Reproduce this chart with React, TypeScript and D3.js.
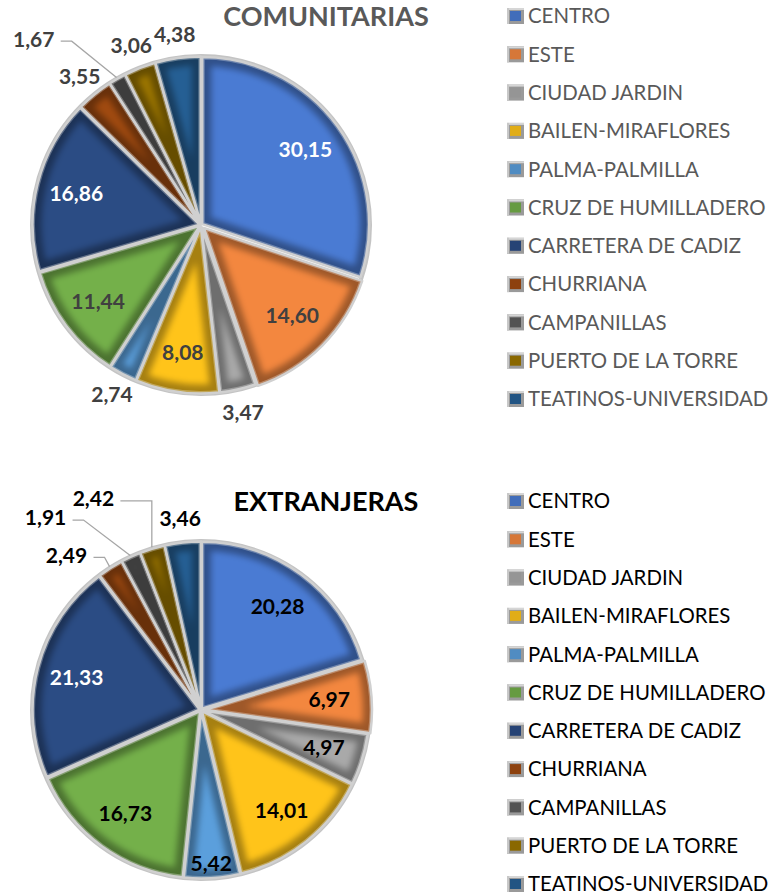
import React from "react";
import * as d3 from "d3";

const distritos = [
  "CENTRO",
  "ESTE",
  "CIUDAD JARDIN",
  "BAILEN-MIRAFLORES",
  "PALMA-PALMILLA",
  "CRUZ DE HUMILLADERO",
  "CARRETERA DE CADIZ",
  "CHURRIANA",
  "CAMPANILLAS",
  "PUERTO DE LA TORRE",
  "TEATINOS-UNIVERSIDAD",
];

const comunitarias = [30.15, 14.6, 3.47, 8.08, 2.74, 11.44, 16.86, 3.55, 1.67, 3.06, 4.38];
const extranjeras = [20.28, 6.97, 4.97, 14.01, 5.42, 16.73, 21.33, 2.49, 1.91, 2.42, 3.46];

const colores = [
  "#4a7bd3",
  "#f3873f",
  "#a9a9a9",
  "#ffc41a",
  "#5b9fdc",
  "#74b04a",
  "#2b4c84",
  "#a04a10",
  "#5e5e5e",
  "#9c7600",
  "#255f94",
];

const fmt = (v: number) => v.toFixed(2).replace(".", ",");

type Ajuste = { r?: number; a?: number; leader?: "diag" | "down" };

type PieProps = {
  id: string;
  title: string;
  values: number[];
  cy: number;
  titleColor: string;
  labelColor: (i: number) => string;
  ajustes: Record<number, Ajuste>;
  legendY: number;
  legendColor: string;
};

const W = 771;
const R = 167;
const CX = 201;

function Torta({ id, title, values, cy, titleColor, labelColor, ajustes, legendY, legendColor }: PieProps) {
  const pie = d3.pie<number>().sort(null).value((d) => d);
  const arcs = pie(values);
  const arc = d3.arc<d3.PieArcDatum<number>>().innerRadius(0).outerRadius(R);
  const polar = (ang: number, r: number): [number, number] => [
    CX + r * Math.sin(ang),
    cy - r * Math.cos(ang),
  ];

  return (
    <g>
      <text
        x={326}
        y={cy - 199}
        textAnchor="middle"
        fontFamily="Lato, sans-serif"
        fontWeight={700}
        fontSize={27}
        fill={titleColor}
      >
        {title}
      </text>

      {/* aro gris */}
      <circle cx={CX} cy={cy} r={R + 2} fill="none" stroke="#c4c4c4" strokeWidth={4} />

      {arcs.map((a, i) => {
        const mid = (a.startAngle + a.endAngle) / 2;
        const off = i === 1 ? 4 : 1.5;
        const dx = off * Math.sin(mid);
        const dy = -off * Math.cos(mid);
        const d = arc(a) as string;
        const clipId = `${id}-clip-${i}`;
        return (
          <g key={i} transform={`translate(${CX + dx},${cy + dy})`}>
            <clipPath id={clipId}>
              <path d={d} />
            </clipPath>
            <path d={d} fill={colores[i]} />
            <g clipPath={`url(#${clipId})`}>
              <path d={d} fill="none" stroke="#000" strokeOpacity={0.35} strokeWidth={18} filter={`url(#${id}-blur)`} />
              <path d={d} fill="none" stroke="#fff" strokeOpacity={0.3} strokeWidth={5} />
            </g>
            <path d={d} fill="none" stroke="#d0d0d0" strokeWidth={2.5} strokeLinejoin="round" />
          </g>
        );
      })}

      {arcs.map((a, i) => {
        const mid = (a.startAngle + a.endAngle) / 2;
        const v = values[i];
        const aj = ajustes[i] || {};
        const inside = v >= 4.5;
        const r = aj.r ?? (inside ? R * 0.77 : R + 25);
        const ang = aj.a !== undefined ? (aj.a * Math.PI) / 180 : mid;
        const [x, y] = polar(ang, r);
        let leader = null;
        if (aj.leader) {
          const x0 = x + 27;
          const x1 = x0 + 11;
          const [ex, ey] = polar(mid, R + 3);
          const pts =
            aj.leader === "down"
              ? `${x0},${y + 2} ${ex},${y + 2} ${ex},${ey}`
              : `${x0},${y + 2} ${x1},${y + 2} ${ex},${ey}`;
          leader = <polyline points={pts} fill="none" stroke="#a6a6a6" strokeWidth={1.3} />;
        }
        return (
          <g key={i}>
            {leader}
            <text
              x={x}
              y={y}
              dy="0.35em"
              textAnchor="middle"
              fontFamily="Lato, sans-serif"
              fontWeight={700}
              fontSize={21}
              fill={inside || aj.r ? labelColor(i) : labelColor(-1)}
            >
              {fmt(v)}
            </text>
          </g>
        );
      })}

      {distritos.map((name, i) => {
        const y = legendY + i * 38.3;
        return (
          <g key={name} transform={`translate(507,${y})`}>
            <rect x={0} y={-8} width={17} height={16} fill="#9a9a9a" />
            <rect x={0} y={-8} width={17} height={2} fill="#d6d6d6" />
            <rect x={0} y={-8} width={2} height={16} fill="#c8c8c8" />
            <rect x={3} y={-5} width={11} height={10} fill={d3.color(colores[i])!.darker(0.35).toString()} />
            <text
              x={21}
              y={0}
              dy="0.36em"
              fontFamily="Lato, sans-serif"
              fontSize={20.4}
              fill={legendColor}
            >
              {name}
            </text>
          </g>
        );
      })}
    </g>
  );
}

export default function App() {
  return (
    <svg
      width={W}
      height={895}
      style={{ position: "absolute", left: 0, top: 0, background: "#fff" }}
    >
      <defs>
        <filter id="t1-blur" x="-20%" y="-20%" width="140%" height="140%">
          <feGaussianBlur stdDeviation={3} />
        </filter>
        <filter id="t2-blur" x="-20%" y="-20%" width="140%" height="140%">
          <feGaussianBlur stdDeviation={3} />
        </filter>
      </defs>
      <Torta
        id="t1"
        title="COMUNITARIAS"
        values={comunitarias}
        cy={225}
        titleColor="#595959"
        labelColor={(i) => (i === 0 || i === 6 ? "#ffffff" : "#404040")}
        ajustes={{ 8: { r: 250, a: 318, leader: "diag" } }}
        legendY={16}
        legendColor="#595959"
      />
      <Torta
        id="t2"
        title="EXTRANJERAS"
        values={extranjeras}
        cy={710}
        titleColor="#000000"
        labelColor={(i) => (i === 6 ? "#ffffff" : "#000000")}
        ajustes={{
          4: { r: 154 },
          7: { r: 205, a: 319, leader: "diag" },
          8: { r: 247, a: 321, leader: "diag" },
          9: { r: 237, a: 333, leader: "down" },
        }}
        legendY={501}
        legendColor="#000000"
      />
    </svg>
  );
}
